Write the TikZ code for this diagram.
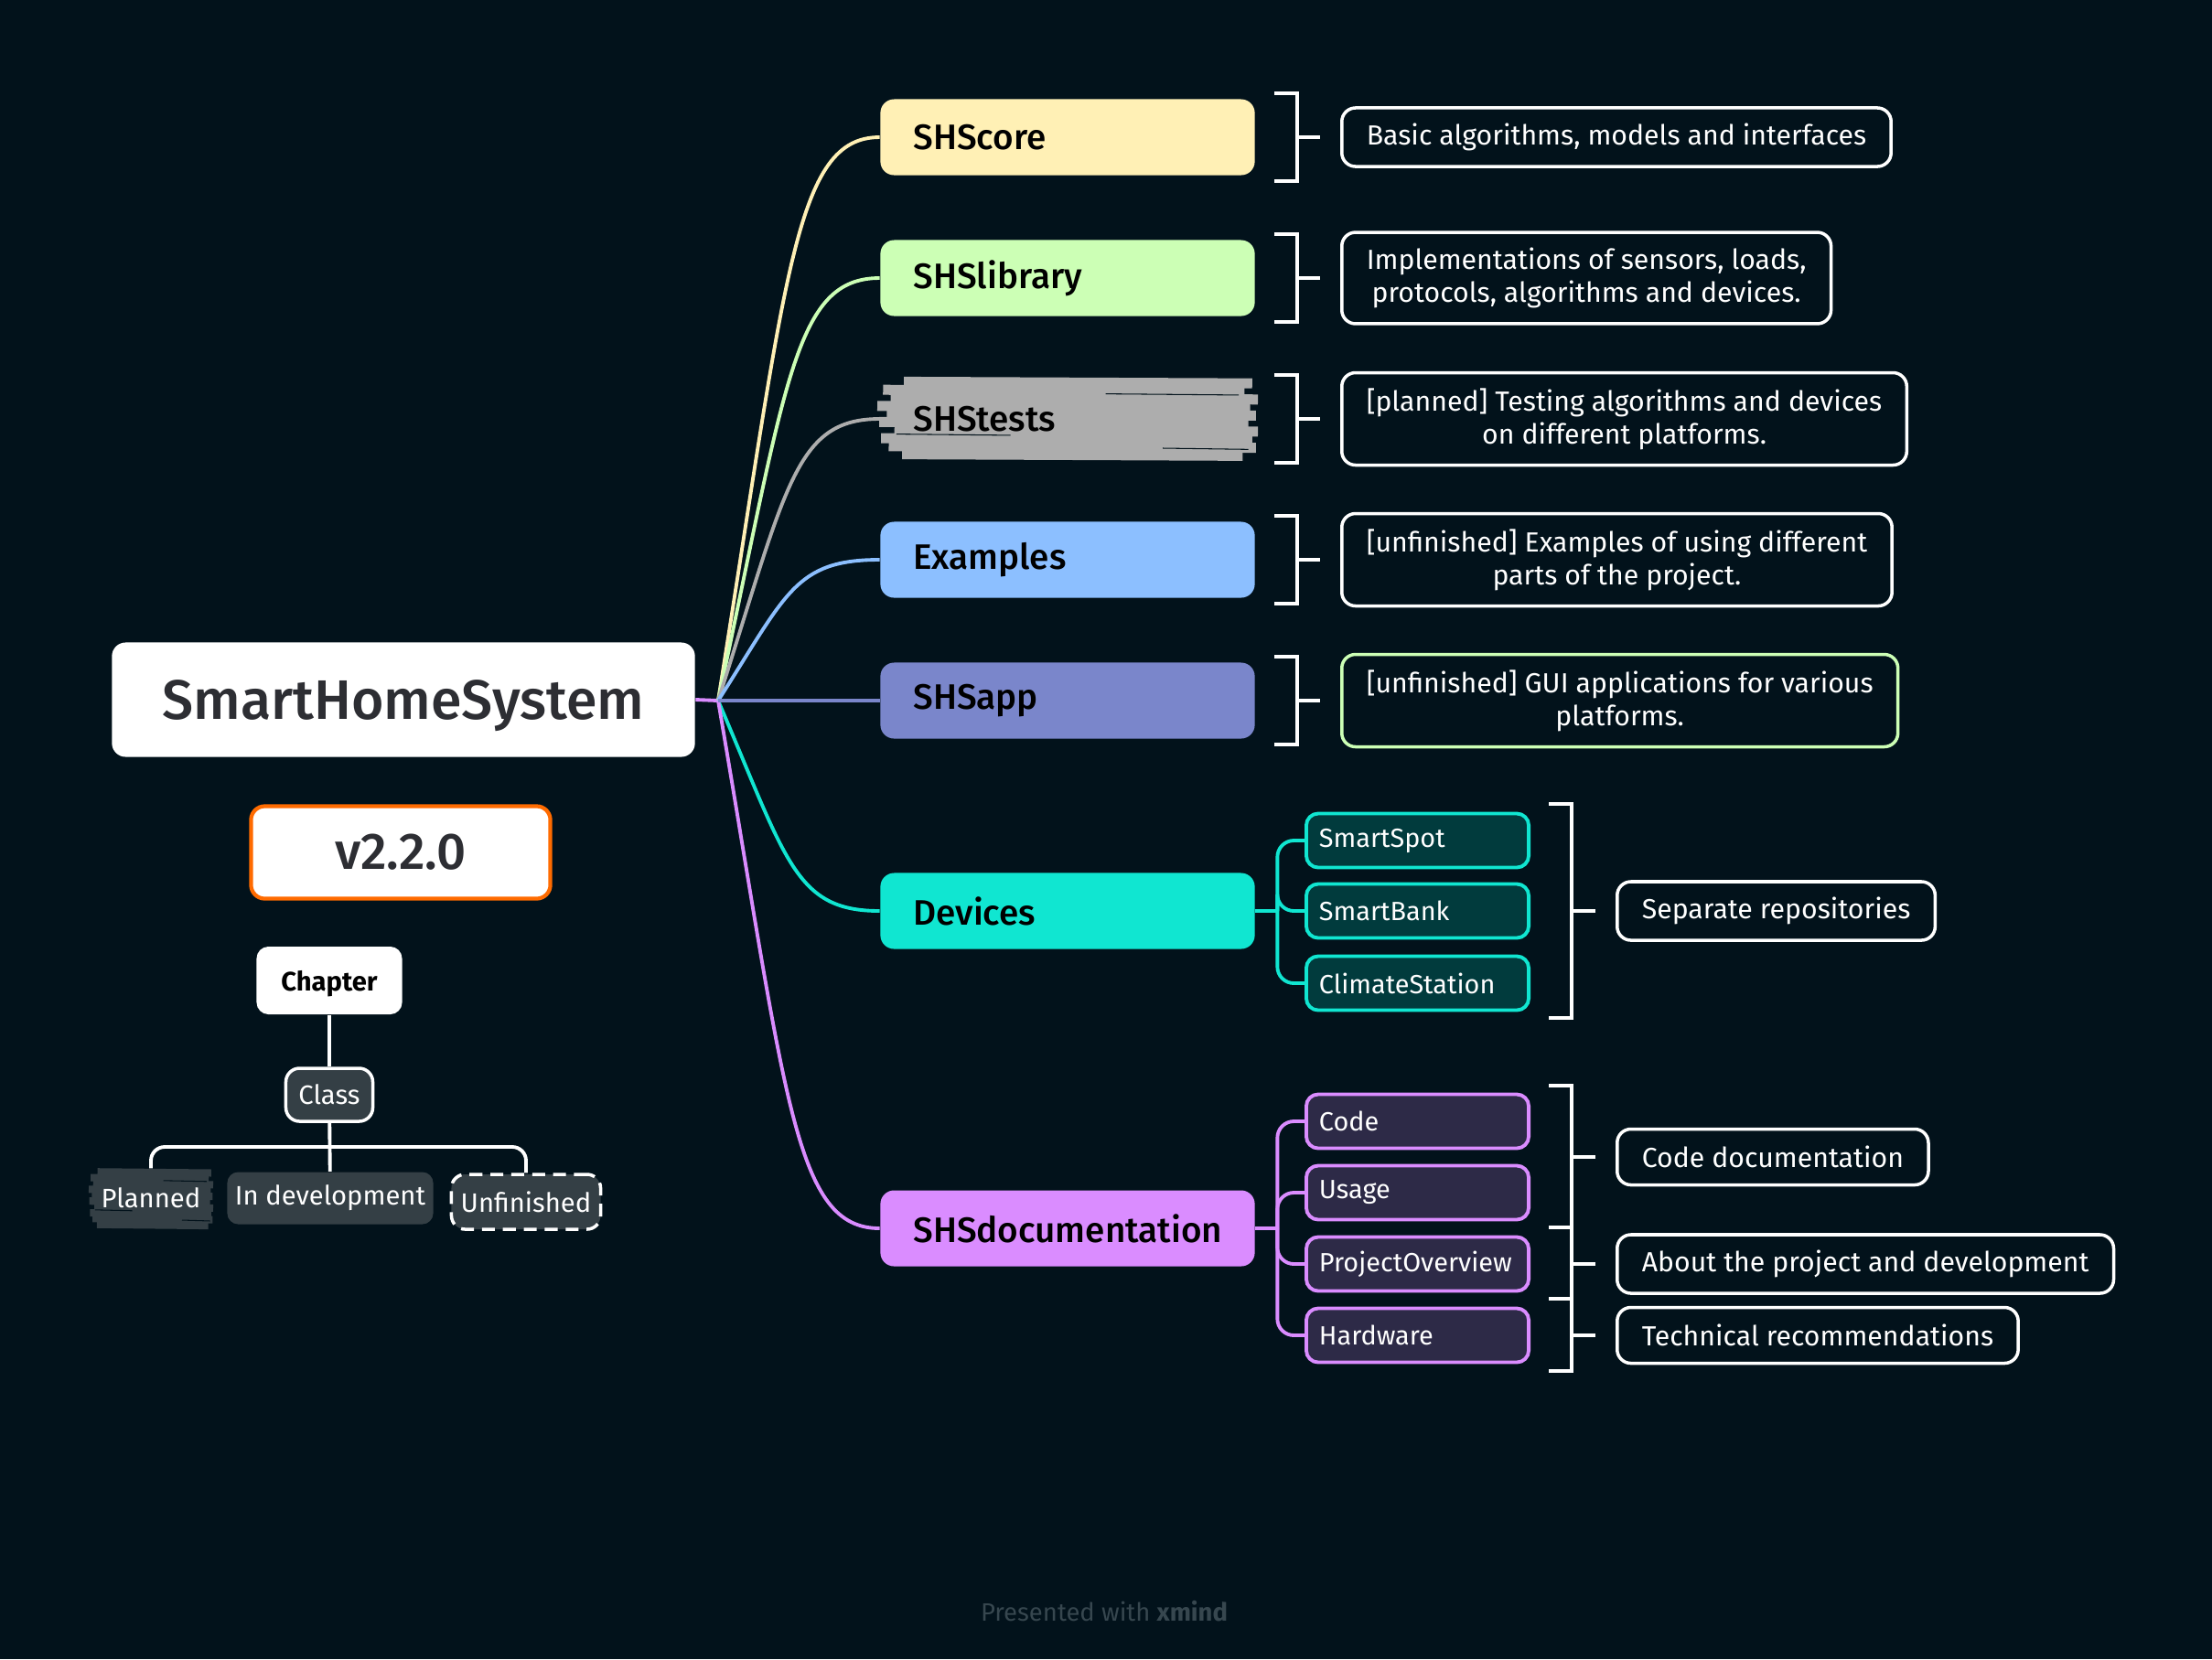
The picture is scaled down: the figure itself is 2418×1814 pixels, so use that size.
\documentclass[tikz,border=0pt]{standalone}
\usepackage{fontspec}
\setmainfont{Fira Sans}
\newfontfamily\mediumfont{Fira Sans Medium}
\usetikzlibrary{calc}
\definecolor{bg}{HTML}{02121B}
\definecolor{corefill}{HTML}{FFF0B5}
\definecolor{libfill}{HTML}{CCFFB5}
\definecolor{testsfill}{HTML}{ADADAD}
\definecolor{examplesfill}{HTML}{8CBFFF}
\definecolor{appfill}{HTML}{7A86CB}
\definecolor{devicesfill}{HTML}{10E6D1}
\definecolor{docsfill}{HTML}{DA8CFF}
\definecolor{devdark}{HTML}{013B3D}
\definecolor{docdark}{HTML}{2D2A47}
\definecolor{legend}{HTML}{343F45}
\definecolor{versionline}{HTML}{FF6B00}
\definecolor{rootgray}{HTML}{2D2E33}
\definecolor{footgray}{HTML}{37474F}
\newcommand\scribble[6]{%
  \begin{scope}[shift={(#1,#2)},xscale=#3,yscale=#4]
    \foreach \yy/\xa/\xb in {-0.9/-0.86/0.97,-0.7/-0.97/0.93,-0.5/-0.93/1.0,-0.3/-1.0/0.96,-0.1/-0.95/0.99,
      0.1/-0.99/0.95,0.3/-0.91/1.0,0.5/-0.98/0.97,0.7/-0.94/0.99,0.9/-0.87/0.92}
      \draw[#5,line width=#6] (\xa,\yy) -- (\xb,\yy+0.04);
    \foreach \yy/\xa/\xb in {-0.6/0.2/0.9,0.4/-0.9/-0.3,0.75/0.5/0.95}
      \draw[bg,line width=0.3pt] (\xa,\yy) -- (\xb,\yy+0.03);
  \end{scope}}
\newcommand\notebracket[4]{%
  \draw[bracket] (#1,#2) -| ({#1+25},#3) -- (#1,#3);
  \draw[bracket] ([xshift=-0.47cm]#4.west) -- ([xshift=-0.22cm]#4.west);}

\begin{document}
\begin{tikzpicture}[x=0.01cm,y=-0.01cm,
    link/.style={line width=1.1pt},
    branch/.style={rounded corners=0.15cm,text width=3.37cm,inner xsep=0.36cm,inner ysep=0pt,
      minimum height=0.83cm,align=left,text=black,font=\mediumfont\fontsize{11}{13}\selectfont},
    sub/.style={rounded corners=0.13cm,line width=1.1pt,text width=2.15cm,inner xsep=0.14cm,inner ysep=0pt,
      minimum height=0.59cm,align=left,anchor=west,text=white,font=\fontsize{8.2}{10}\selectfont},
    note/.style={draw=white,line width=1pt,rounded corners=0.15cm,inner xsep=0.27cm,inner ysep=0.17cm,
      minimum height=0.61cm,align=center,anchor=west,text=white,font=\fontsize{8.6}{10.2}\selectfont},
    bracket/.style={draw=white,line width=1pt},
    tag/.style={fill=legend,rounded corners=0.12cm,text=white,inner sep=0pt,font=\fontsize{8.3}{10}\selectfont}]
  \fill[bg] (0,0) rectangle (2418,1814);

  \node[fill=white,rounded corners=0.15cm,minimum width=6.37cm,minimum height=1.25cm,text=rootgray,text depth=0pt,
    font=\mediumfont\fontsize{17.3}{20}\selectfont] (root) at (441,765) {SmartHomeSystem};
  \node[fill=white,draw=versionline,line width=1.2pt,rounded corners=0.15cm,minimum width=3.27cm,
    minimum height=1.01cm,text=rootgray,font=\mediumfont\fontsize{16}{18}\selectfont] (version) at (438,932) {v2.2.0};
  \coordinate (fan) at (785,766);

  \node[branch,fill=corefill] (core) at (1167,150) {SHScore};
  \node[branch,fill=libfill] (lib) at (1167,304) {SHSlibrary};
  \scribble{1167}{457}{208}{44}{testsfill}{0.11cm}
  \node[branch] (tests) at (1167,458) {SHStests};
  \node[branch,fill=examplesfill] (examples) at (1167,612) {Examples};
  \node[branch,fill=appfill] (app) at (1167,766) {SHSapp};
  \node[branch,fill=devicesfill] (devices) at (1167,996) {Devices};
  \node[branch,fill=docsfill] (docs) at (1167,1343) {\mbox{SHSdocumentation}};

  \draw[link,docsfill] (root.east) -- (fan);
  \foreach \b in {core,lib,tests,examples,devices,docs}
    \draw[link,\b fill] (fan) .. controls ($(fan)!0.76!(fan |- \b.west)+(75,0)$) and ($(\b.west)+(-93,0)$) .. (\b.west);
  \draw[link,appfill] (fan) -- (app.west);

  \node[note] (corenote) at (1465,150) {Basic algorithms, models and interfaces};
  \node[note] (libnote) at (1465,304) {Implementations of sensors, loads,\\protocols, algorithms and devices.};
  \node[note] (testsnote) at (1465,458) {[planned] Testing algorithms and devices\\on different platforms.};
  \node[note] (examplesnote) at (1465,612) {[unfinished] Examples of using different\\parts of the project.};
  \node[note,draw=libfill] (appnote) at (1465,766) {[unfinished] GUI applications for various\\platforms.};
  \notebracket{1393}{102}{198}{corenote}
  \notebracket{1393}{256}{352}{libnote}
  \notebracket{1393}{410}{506}{testsnote}
  \notebracket{1393}{564}{660}{examplesnote}
  \notebracket{1393}{718}{814}{appnote}

  \node[sub,draw=devicesfill,fill=devdark] (spot) at (1426,919) {SmartSpot};
  \node[sub,draw=devicesfill,fill=devdark] (bank) at (1426,996) {SmartBank};
  \node[sub,draw=devicesfill,fill=devdark] (climate) at (1426,1075) {ClimateStation};
  \coordinate (devjoin) at ([xshift=0.24cm]devices.east);
  \draw[link,devicesfill] (devices.east) -- (devjoin);
  \foreach \s in {spot,bank,climate}
    \draw[link,devicesfill,rounded corners=0.18cm] (devjoin) |- (\s.west);

  \node[sub,draw=docsfill,fill=docdark] (code) at (1426,1226) {Code};
  \node[sub,draw=docsfill,fill=docdark] (usage) at (1426,1304) {Usage};
  \node[sub,draw=docsfill,fill=docdark] (overview) at (1426,1382) {ProjectOverview};
  \node[sub,draw=docsfill,fill=docdark] (hardware) at (1426,1460) {Hardware};
  \coordinate (docjoin) at ([xshift=0.24cm]docs.east);
  \draw[link,docsfill] (docs.east) -- (docjoin);
  \foreach \s in {code,usage,overview,hardware}
    \draw[link,docsfill,rounded corners=0.18cm] (docjoin) |- (\s.west);

  \node[note] (devnote) at (1766,996) {Separate repositories};
  \node[note] (codenote) at (1766,1265) {Code documentation};
  \node[note] (aboutnote) at (1766,1382) {About the project and development};
  \node[note] (technote) at (1766,1460) {Technical recommendations};
  \notebracket{1693}{879}{1113}{devnote}
  \notebracket{1693}{1187}{1342}{codenote}
  \notebracket{1693}{1342}{1420}{aboutnote}
  \notebracket{1693}{1420}{1499}{technote}

  \node[fill=white,rounded corners=0.13cm,minimum width=1.59cm,minimum height=0.74cm,text depth=0pt,
    font=\bfseries\fontsize{8.3}{10}\selectfont] (chapter) at (360,1072) {Chapter};
  \node[tag,draw=white,line width=1pt,rounded corners=0.15cm,minimum width=0.95cm,minimum height=0.58cm] (class) at (360,1197) {Class};
  \scribble{165}{1310}{68}{32}{legend}{0.08cm}
  \node[text=white,inner sep=0pt,minimum width=1.36cm,minimum height=0.64cm,
    font=\fontsize{8.3}{10}\selectfont] (planned) at (165,1310) {Planned};
  \node[tag,minimum width=2.25cm,minimum height=0.57cm] (indev) at (361,1310) {In development};
  \node[tag,draw=white,line width=1pt,dash pattern=on 4pt off 2.5pt,rounded corners=0.15cm,
    minimum width=1.63cm,minimum height=0.6cm] (unfinished) at (575,1314) {Unfinished};
  \coordinate (bus) at (360,1254);
  \draw[link,white] (chapter) -- (class);
  \draw[link,white] (class) -- (indev);
  \draw[link,white,rounded corners=0.15cm] (planned.north) -- (planned.north |- bus) -- (unfinished.north |- bus) -- (unfinished.north);

  \node[text=footgray,font=\fontsize{7.8}{9}\selectfont] (footer) at (1207,1762) {Presented with \textbf{xmind}};
\end{tikzpicture}
\end{document}
